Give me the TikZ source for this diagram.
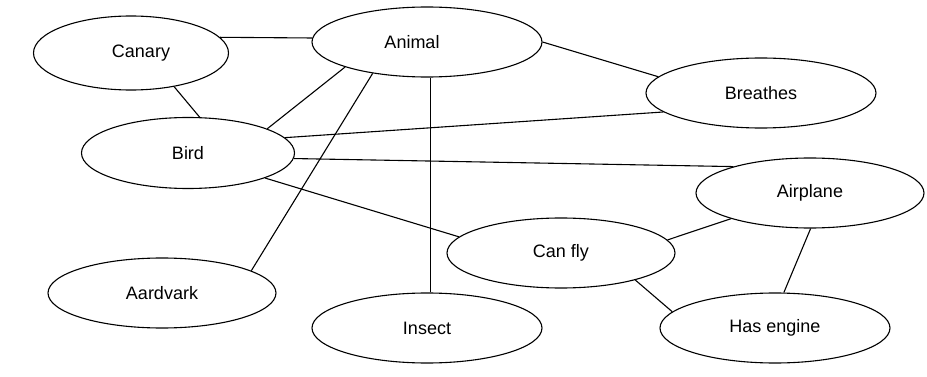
\documentclass[tikz,border=0pt]{standalone}
\usepackage{fontspec}
\setmainfont{Liberation Sans}
\usetikzlibrary{shapes,shapes.geometric}

\begin{document}
\begin{tikzpicture}[x=1pt,y=-1pt]
\tikzset{base/.style={text=black, align=center, draw, ellipse, inner sep=0pt, line width=1.1pt}, }
\tikzset{testo/.style={font=\fontsize{18}{20}\selectfont}, }
\tikzset{concetto node/.style={testo,base,minimum width=230pt,minimum height=70pt}, }
\tikzset{linea/.style={line width=1.1pt},}
\useasboundingbox (0,0) rectangle (927,377);

\node[concetto node,minimum width=195pt,minimum height=74pt] (canary) at (131,53) {\hspace*{20pt}Canary};
\node[concetto node] (animal) at (427,42) {Animal\hspace*{30pt}};
\node[concetto node] (breathes) at (761,93) {Breathes};
\node[concetto node,minimum width=213pt,minimum height=71pt] (bird) at (188,153) {Bird};
\node[concetto node,minimum width=228pt] (airplane) at (810,193) {Airplane};
\node[concetto node,minimum width=228pt] (canfly) at (561,253) {Can fly};
\node[concetto node,minimum width=228pt] (aardvark) at (162,293) {Aardvark};
\node[concetto node] (insect) at (427,328) {Insect};
\node[concetto node] (engine) at (775,328) {Has engine};

% collegamenti
\draw[linea] (canary.10) -- (animal.178);
\draw[linea] (canary.-38) -- (bird.72);
\draw[linea] (animal.197) -- (bird.17);
\draw[linea] (animal.210) -- (aardvark.14);
\draw[linea] (animal.-84) -- (insect.84);
\draw[linea] (animal.0) -- (breathes.171);
\draw[linea] (bird.9) -- (breathes.191);
\draw[linea] (bird.-3) -- (airplane.161);
\draw[linea] (bird.-18) -- (canfly.171);
\draw[linea] (canfly.7) -- (airplane.198);
\draw[linea] (canfly.-20) -- (engine.171);
\draw[linea] (airplane.-89) -- (engine.76);
\end{tikzpicture}
\end{document}
